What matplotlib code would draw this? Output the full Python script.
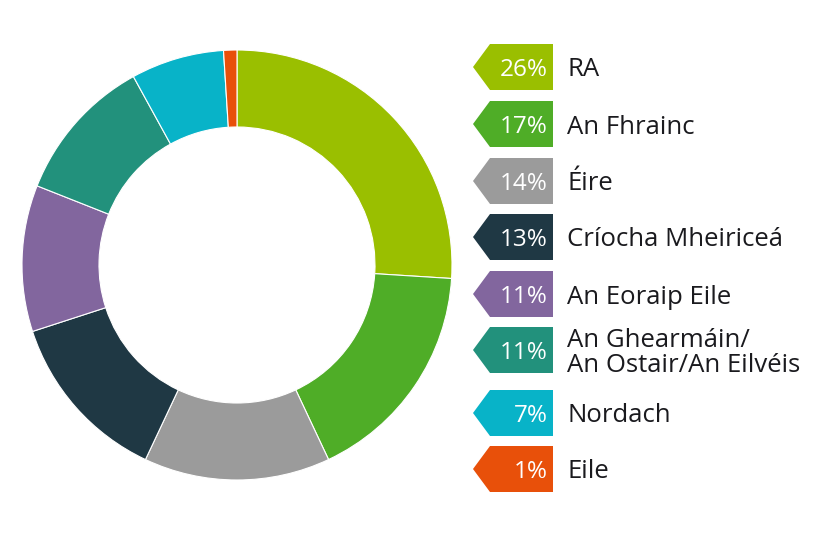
import matplotlib
matplotlib.use('Agg')
import matplotlib.pyplot as plt
from matplotlib.patches import Polygon

plt.rcParams['font.family'] = ['Open Sans', 'DejaVu Sans']

# data
labels = ['RA', 'An Fhrainc', 'Éire', 'Críocha Mheiriceá', 'An Eoraip Eile',
          'An Ghearmáin/\nAn Ostair/An Eilvéis', 'Nordach', 'Eile']
values = [26, 17, 14, 13, 11, 11, 7, 1]
colors = ['#9abf00', '#4fad27', '#9b9b9b', '#1f3844', '#82669e',
          '#22917c', '#08b3c8', '#e8500a']

W, H = 836, 556
fig = plt.figure(figsize=(W / 100, H / 100), dpi=100)
ax = fig.add_axes([0, 0, 1, 1])

# donut
ax.pie(values, colors=colors, startangle=90, counterclock=False,
       center=(237, H - 265), radius=215, frame=True,
       wedgeprops=dict(width=77, edgecolor='white', linewidth=0.8))
ax.set_xlim(0, W)
ax.set_ylim(0, H)
ax.set_aspect('equal')
ax.axis('off')

# legend tags
tag_y = [67, 124, 181, 237, 294, 350, 413, 469]
x_tip, x_body, x_right, half_h = 473, 490, 553, 23
for lab, v, c, ty in zip(labels, values, colors, tag_y):
    yc = H - ty
    poly = Polygon([(x_tip, yc), (x_body, yc + half_h), (x_right, yc + half_h),
                    (x_right, yc - half_h), (x_body, yc - half_h)],
                   closed=True, facecolor=c, edgecolor='none')
    ax.add_patch(poly)
    ax.text(x_right - 5, yc, f'{v}%', color='white', fontsize=17.5,
            ha='right', va='center_baseline')
    ax.text(567, yc, lab, color='#1a1a1e', fontsize=18.5,
            ha='left', va='center_baseline', linespacing=0.98)

fig.savefig('out.png', dpi=100)
